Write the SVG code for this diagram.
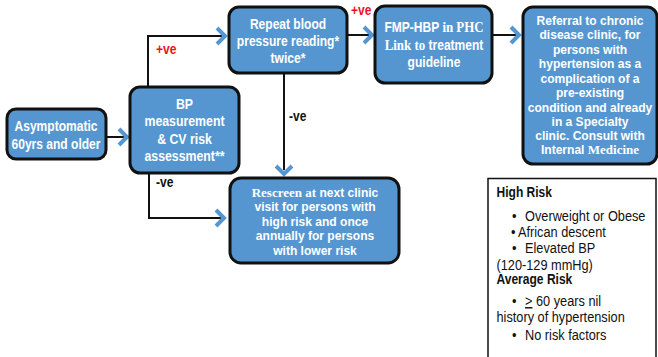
<svg xmlns="http://www.w3.org/2000/svg" width="658" height="357" viewBox="0 0 658 357">
<style>
.box{fill:#5596d1;stroke:#111;stroke-width:3}
.t{font-family:"Liberation Sans",Arial,sans-serif;font-weight:bold;font-size:14px;fill:#fff;text-anchor:middle}
.tc{font-size:12.5px}
.s{font-family:"Liberation Serif","Times New Roman",serif;font-weight:bold}
.ln{fill:none;stroke:#111;stroke-width:2}
.ar{fill:none;stroke:#5596d1;stroke-width:4}
.lb{font-family:"Liberation Sans",Arial,sans-serif;font-weight:bold;font-size:14px;fill:#111}
.red{fill:#e8141c}
.lg{font-family:"Liberation Sans",Arial,sans-serif;font-size:14.5px;fill:#111}
.lgb{font-family:"Liberation Sans",Arial,sans-serif;font-size:14px;font-weight:bold;fill:#111}
</style>
<rect width="658" height="357" fill="#fff"/>
<g id="connectors">
<path class="ln" d="M106,137 H124"/>
<path class="ar" d="M119,129 L127,137 L119,145"/>
<path class="ln" d="M148,87 V36 H222"/>
<path class="ar" d="M217,28 L225,36 L217,44"/>
<path class="ln" d="M284,73 V170"/>
<path class="ar" d="M276,166 L284,174 L292,166"/>
<path class="ln" d="M149,173 V218 H221"/>
<path class="ar" d="M216,210 L224,218 L216,226"/>
<path class="ln" d="M347,35 H369"/>
<path class="ar" d="M364,27 L372,35 L364,43"/>
<path class="ln" d="M492,35 H516"/>
<path class="ar" d="M511,27 L519,35 L511,43"/>
<g transform="translate(156,0) scale(0.86,1)"><text class="lb red" x="0" y="54">+ve</text></g>
<g transform="translate(289,0) scale(0.86,1)"><text class="lb" x="0" y="121">-ve</text></g>
<g transform="translate(156,0) scale(0.86,1)"><text class="lb" x="0" y="187">-ve</text></g>
<g transform="translate(351,0) scale(0.86,1)"><text class="lb red" x="0" y="15">+ve</text></g>
</g>
<g id="asymptomatic">
<rect class="box" x="7" y="109" width="99" height="50" rx="9"/>
<g transform="translate(56,0) scale(0.86,1)">
<text class="t" x="0" y="131">Asymptomatic</text>
<text class="t" x="0" y="149.5">60yrs and older</text>
</g>
</g>
<g id="bp">
<rect class="box" x="130" y="87" width="109" height="86" rx="10"/>
<g transform="translate(184.5,0) scale(0.88,1)">
<text class="t" x="0" y="109">BP</text>
<text class="t" x="0" y="126.5">measurement</text>
<text class="t" x="0" y="144">&amp; CV risk</text>
<text class="t" x="0" y="161">assessment**</text>
</g>
</g>
<g id="repeat">
<rect class="box" x="229" y="7" width="118" height="66" rx="10"/>
<g transform="translate(288,0) scale(0.86,1)">
<text class="t" x="0" y="29">Repeat blood</text>
<text class="t" x="0" y="46.5">pressure reading*</text>
<text class="t" x="0" y="63">twice*</text>
</g>
</g>
<g id="fmp">
<rect class="box" x="375" y="6" width="117" height="77" rx="10"/>
<g transform="translate(434,0) scale(0.86,1)">
<text class="t" x="0" y="32">FMP-HBP <tspan class="s" font-weight="normal" font-size="15">in PHC</tspan></text>
<text class="t" x="0" y="50"><tspan class="s" font-weight="normal" font-size="15">Link to</tspan> treatment</text>
<text class="t" x="0" y="67">guideline</text>
</g>
</g>
<g id="referral">
<rect class="box" x="523" y="7" width="134" height="157" rx="10"/>
<g transform="translate(590,0) scale(0.963,1)">
<text class="t tc" x="0" y="25">Referral to chronic</text>
<text class="t tc" x="0" y="39.5">disease clinic, for</text>
<text class="t tc" x="0" y="54">persons with</text>
<text class="t tc" x="0" y="68.5">hypertension as a</text>
<text class="t tc" x="0" y="83">complication of a</text>
<text class="t tc" x="0" y="97.5">pre-existing</text>
<text class="t tc" x="0" y="112">condition and already</text>
<text class="t tc" x="0" y="126">in a Specialty</text>
<text class="t tc" x="0" y="140">clinic. Consult with</text>
<text class="t tc" x="0" y="154.5">Internal <tspan class="s" font-weight="normal" font-size="13.5">Medicine</tspan></text>
</g>
</g>
<g id="rescreen">
<rect class="box" x="230" y="178" width="169" height="85" rx="11"/>
<g transform="translate(315,0) scale(0.963,1)">
<text class="t tc" x="0" y="197"><tspan class="s" font-size="13.5">Rescreen at</tspan>  next clinic</text>
<text class="t tc" x="0" y="211.5">visit for persons with</text>
<text class="t tc" x="0" y="226">high risk and once</text>
<text class="t tc" x="0" y="240.5">annually for persons</text>
<text class="t tc" x="0" y="255">with lower risk</text>
</g>
</g>
<g id="legend">
<rect x="488" y="178.5" width="168" height="182" fill="#fff" stroke="#111" stroke-width="1.5"/>
<g transform="translate(496.5,0) scale(0.86,1)">
<text class="lgb" x="0" y="197.5">High Risk</text>
<text class="lgb" x="0" y="284.5">Average Risk</text>
</g>
<g transform="translate(496.5,0) scale(0.88,1)">
<text class="lg" x="17.6" y="221">•</text>
<text class="lg" x="32.4" y="221">Overweight or Obese</text>
<text class="lg" x="16.5" y="237">•</text>
<text class="lg" x="24.4" y="237">African descent</text>
<text class="lg" x="17.6" y="253">•</text>
<text class="lg" x="32.4" y="253">Elevated BP</text>
<text class="lg" x="0" y="270">(120-129 mmHg)</text>
<text class="lg" x="17.6" y="306">•</text>
<text class="lg" x="32.4" y="306"><tspan text-decoration="underline">&gt;</tspan> 60 years nil</text>
<text class="lg" x="0" y="322">history of hypertension</text>
<text class="lg" x="17.6" y="340">•</text>
<text class="lg" x="32.4" y="340">No risk factors</text>
</g>
</g>
</svg>
